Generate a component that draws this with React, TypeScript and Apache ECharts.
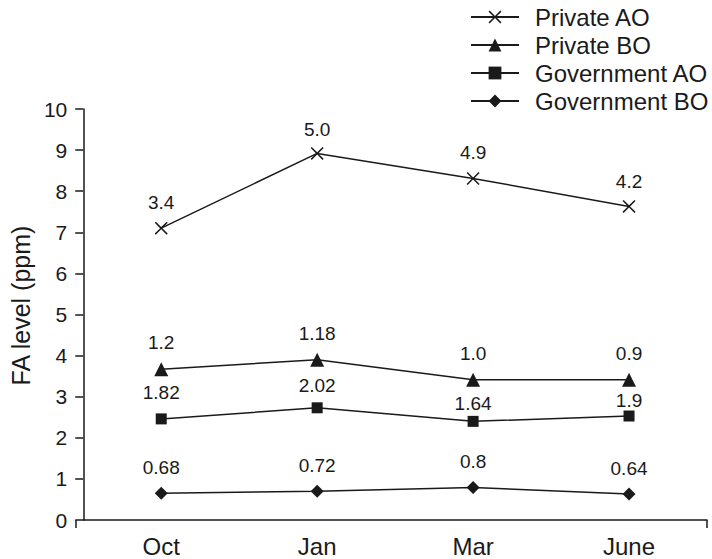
import React, { useEffect, useRef } from "react";
import * as echarts from "echarts";

const categories = ["Oct", "Jan", "Mar", "June"];
const seriesNames = ["Private AO", "Private BO", "Government AO", "Government BO"];
const privateAO = [7.1, 8.92, 8.31, 7.63];
const privateBO = [3.67, 3.9, 3.41, 3.41];
const governmentAO = [2.46, 2.73, 2.4, 2.53];
const governmentBO = [0.65, 0.7, 0.79, 0.63];
const privateAOLabels = ["3.4", "5.0", "4.9", "4.2"];
const privateBOLabels = ["1.2", "1.18", "1.0", "0.9"];
const governmentAOLabels = ["1.82", "2.02", "1.64", "1.9"];
const governmentBOLabels = ["0.68", "0.72", "0.8", "0.64"];
const yTicks = { min: 0, max: 10, interval: 1 };

const FONT = "'Liberation Sans', Arial, Helvetica, sans-serif";
const INK = "#1a1a1a";
const GRID = { left: 76, right: 5, top: 109, bottom: 39 };
const W = 712;
const H = 559;

const crossPath =
  "path://M0,1L1,0L6,5L11,0L12,1L7,6L12,11L11,12L6,7L1,12L0,11L5,6Z";

function makeSeries(
  name: string,
  values: number[],
  labels: string[],
  symbol: string,
  symbolSize: number,
  distances: number[]
) {
  return {
    name,
    type: "line",
    data: values.map((v, i) => ({
      value: v,
      label: { distance: distances[i] },
    })),
    symbol,
    symbolSize,
    showAllSymbol: true,
    itemStyle: { color: INK, borderColor: INK, borderWidth: 0 },
    lineStyle: { color: INK, width: 1.5 },
    label: {
      show: true,
      position: "top",
      fontFamily: FONT,
      fontSize: 19,
      color: INK,
      formatter: (p: any) => labels[p.dataIndex],
    },
    emphasis: { disabled: true },
    z: 3,
  };
}

export default function App() {
  const ref = useRef<HTMLDivElement>(null);
  useEffect(() => {
    if (!ref.current) return;
    const chart = echarts.init(ref.current, undefined, { renderer: "svg" });
    const axisY = H - GRID.bottom;
    const xLeft = GRID.left;
    const xRight = W - GRID.right;
    chart.setOption({
      animation: false,
      backgroundColor: "#ffffff",
      textStyle: { fontFamily: FONT },
      grid: { ...GRID, containLabel: false },
      legend: {
        orient: "vertical",
        left: 465,
        top: 0,
        itemWidth: 48,
        itemHeight: 16,
        itemGap: 4,
        data: seriesNames,
        textStyle: {
          fontFamily: FONT,
          fontSize: 24,
          color: INK,
          padding: [0, 0, 0, 11],
        },
      },
      xAxis: {
        type: "category",
        data: categories,
        boundaryGap: true,
        axisLine: { lineStyle: { color: INK, width: 1.5 } },
        axisTick: {
          alignWithLabel: true,
          length: 8,
          lineStyle: { color: INK, width: 1.5 },
        },
        axisLabel: {
          fontFamily: FONT,
          fontSize: 24,
          color: INK,
          margin: 14,
        },
        splitLine: { show: false },
      },
      yAxis: {
        type: "value",
        min: yTicks.min,
        max: yTicks.max,
        interval: yTicks.interval,
        name: "FA level (ppm)",
        nameLocation: "middle",
        nameGap: 50,
        nameTextStyle: {
          fontFamily: FONT,
          fontSize: 25,
          color: INK,
          padding: [0, 0, 0, 18],
        },
        axisLine: { show: true, lineStyle: { color: INK, width: 1.5 } },
        axisTick: { show: true, length: 8, lineStyle: { color: INK, width: 1.5 } },
        axisLabel: { fontFamily: FONT, fontSize: 21, color: INK, margin: 16 },
        splitLine: { show: false },
      },
      graphic: [
        {
          type: "line",
          shape: { x1: xLeft, y1: axisY, x2: xLeft, y2: axisY + 8 },
          style: { stroke: INK, lineWidth: 1.5 },
        },
        {
          type: "line",
          shape: { x1: xRight, y1: axisY, x2: xRight, y2: axisY + 8 },
          style: { stroke: INK, lineWidth: 1.5 },
        },
      ],
      series: [
        makeSeries(seriesNames[0], privateAO, privateAOLabels, crossPath, 13, [10, 8, 10, 9]),
        makeSeries(seriesNames[1], privateBO, privateBOLabels, "triangle", 14, [10, 10, 10, 10]),
        makeSeries(seriesNames[2], governmentAO, governmentAOLabels, "rect", 11, [11, 7, 3, 1]),
        makeSeries(seriesNames[3], governmentBO, governmentBOLabels, "diamond", 13, [10, 10, 10, 10]),
      ],
    });
    return () => chart.dispose();
  }, []);
  return (
    <div
      ref={ref}
      style={{ position: "fixed", left: 0, top: 0, width: W, height: H }}
    />
  );
}
